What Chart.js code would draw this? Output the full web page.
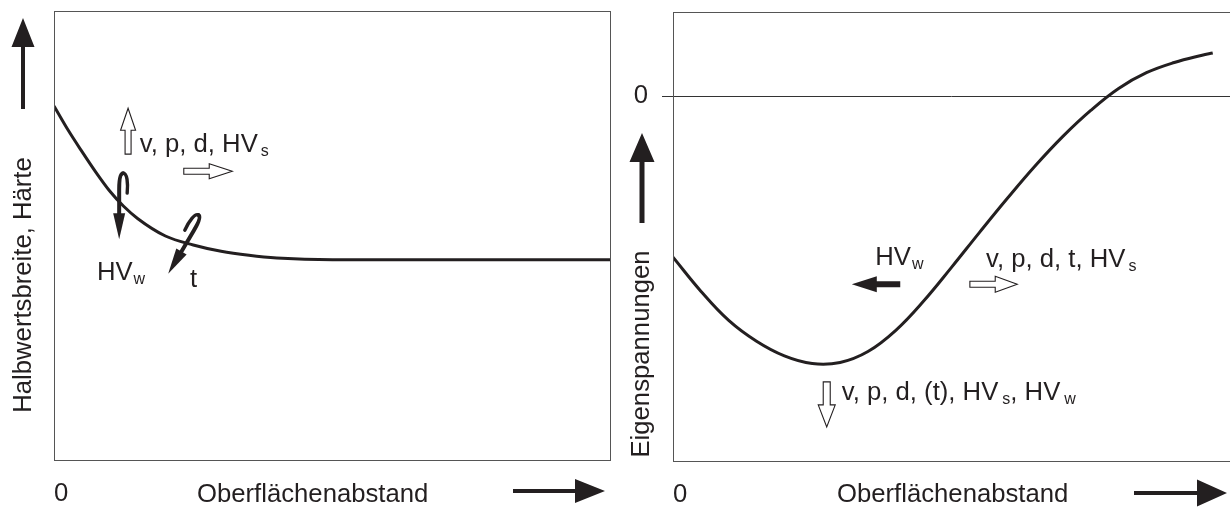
<!DOCTYPE html>
<html>
<head>
<meta charset="utf-8">
<script src="https://cdn.jsdelivr.net/npm/chart.js@4.4.1/dist/chart.umd.min.js"></script>
<style>
  html, body { margin: 0; padding: 0; background: #fff; overflow: hidden; }
  #wrap { position: relative; width: 1230px; height: 507px; }
  canvas { position: absolute; top: 0; }
  #fwhm { left: 0; }
  #stress { left: 615px; }
</style>
</head>
<body>
<div id="wrap">
  <canvas id="fwhm" width="615" height="507"></canvas>
  <canvas id="stress" width="615" height="507"></canvas>
</div>
<script>
// Half-width / hardness versus distance from the surface (relative units)
const distanceA = [0, 0.25, 0.5, 0.75, 1, 1.25, 1.5, 2, 2.5, 3, 3.5, 4, 5, 6, 8, 10];
const hardnessA = [7.89, 7.36, 6.88, 6.42, 6.00, 5.66, 5.39, 5.00, 4.80, 4.66, 4.57, 4.51, 4.47, 4.47, 4.47, 4.47];

// Residual stress versus distance from the surface (relative units)
const distanceB = [0, 0.5, 1, 1.5, 2, 2.5, 3, 3.5, 4, 4.5, 5, 5.5, 6, 6.5, 7, 7.5, 8, 8.5, 9, 9.5, 9.69];
const stressB = [-4.40, -5.33, -6.13, -6.70, -7.10, -7.31, -7.28, -6.98, -6.40, -5.60, -4.68, -3.73, -2.80, -1.91, -1.10, -0.39, 0.21, 0.64, 0.92, 1.12, 1.18];

// Tick values shown on the axes
const xTicks = [0];
const yTicksB = [0];

// Axis titles
const xTitle = 'Oberflächenabstand';
const yTitleA = 'Halbwertsbreite, Härte';
const yTitleB = 'Eigenspannungen';

const FONT = '"Liberation Sans", Arial, Helvetica, sans-serif';
const INK = '#231f20';
const MAIN = '25.7px ' + FONT;
const SUB = '16px ' + FONT;

// ---------- drawing helpers ----------
function arrowPath(ctx, x1, y1, x2, y2, sw, hl, hw) {
  const dx = x2 - x1, dy = y2 - y1, L = Math.hypot(dx, dy);
  const ux = dx / L, uy = dy / L, nx = -uy, ny = ux;
  const bx = x2 - ux * hl, by = y2 - uy * hl;
  ctx.beginPath();
  ctx.moveTo(x1 + nx * sw / 2, y1 + ny * sw / 2);
  ctx.lineTo(bx + nx * sw / 2, by + ny * sw / 2);
  ctx.lineTo(bx + nx * hw / 2, by + ny * hw / 2);
  ctx.lineTo(x2, y2);
  ctx.lineTo(bx - nx * hw / 2, by - ny * hw / 2);
  ctx.lineTo(bx - nx * sw / 2, by - ny * sw / 2);
  ctx.lineTo(x1 - nx * sw / 2, y1 - ny * sw / 2);
  ctx.closePath();
}
function solidArrow(ctx, x1, y1, x2, y2, sw, hl, hw) {
  arrowPath(ctx, x1, y1, x2, y2, sw, hl, hw);
  ctx.fillStyle = INK;
  ctx.fill();
}
function hollowArrow(ctx, x1, y1, x2, y2, sw, hl, hw) {
  arrowPath(ctx, x1, y1, x2, y2, sw, hl, hw);
  ctx.fillStyle = '#fff';
  ctx.fill();
  ctx.lineWidth = 1.1;
  ctx.strokeStyle = INK;
  ctx.stroke();
}
// Black arrow with a curled tail; drawn pointing down from its tail, tip at (tx, ty)
function curlArrow(ctx, tx, ty, angle, flip) {
  ctx.save();
  ctx.translate(tx, ty);
  ctx.rotate(angle);
  if (flip) ctx.scale(-1, 1);
  ctx.strokeStyle = INK;
  ctx.fillStyle = INK;
  ctx.lineCap = 'round';
  ctx.lineJoin = 'round';
  ctx.lineWidth = 4;
  ctx.beginPath();
  ctx.moveTo(0, -24);
  ctx.lineTo(0, -50);
  ctx.bezierCurveTo(0, -60, 1, -66, 4, -66);
  ctx.stroke();
  ctx.lineWidth = 3.4;
  ctx.beginPath();
  ctx.moveTo(4, -66);
  ctx.bezierCurveTo(8, -66, 9, -56, 8, -46);
  ctx.stroke();
  ctx.beginPath();
  ctx.moveTo(-6, -26);
  ctx.lineTo(6, -26);
  ctx.lineTo(0, 0);
  ctx.closePath();
  ctx.fill();
  ctx.restore();
}
// Text with subscripts: parts = [{t, sub, gap}]
function richText(ctx, x, y, parts) {
  ctx.save();
  ctx.fillStyle = INK;
  ctx.textAlign = 'left';
  ctx.textBaseline = 'alphabetic';
  let cx = x;
  for (const p of parts) {
    cx += p.gap || 0;
    ctx.font = p.sub ? SUB : MAIN;
    ctx.fillText(p.t, cx, p.sub ? y + 4 : y);
    cx += ctx.measureText(p.t).width;
  }
  ctx.restore();
}
function plainText(ctx, s, x, y) {
  ctx.save();
  ctx.font = MAIN;
  ctx.fillStyle = INK;
  ctx.textAlign = 'left';
  ctx.textBaseline = 'alphabetic';
  ctx.fillText(s, x, y);
  ctx.restore();
}
function verticalTitle(ctx, s, baseX, centerY) {
  ctx.save();
  ctx.translate(baseX, centerY);
  ctx.rotate(-Math.PI / 2);
  ctx.font = MAIN;
  ctx.fillStyle = INK;
  ctx.textAlign = 'center';
  ctx.textBaseline = 'alphabetic';
  ctx.fillText(s, 0, 0);
  ctx.restore();
}
function frame(ctx, a) {
  ctx.save();
  ctx.strokeStyle = '#555';
  ctx.lineWidth = 1;
  ctx.strokeRect(Math.round(a.left) + 0.5, Math.round(a.top) + 0.5,
                 Math.round(a.right - a.left) - 1, Math.round(a.bottom - a.top) - 1);
  ctx.restore();
}

// ---------- per-panel decorations ----------
const decorA = {
  id: 'decorA',
  afterDraw(chart) {
    const ctx = chart.ctx, X = chart.scales.x, Y = chart.scales.y;
    const px = v => X.getPixelForValue(v), py = v => Y.getPixelForValue(v);
    frame(ctx, chart.chartArea);

    // axis direction arrows and titles
    solidArrow(ctx, 23, 109, 23, 18, 4, 29, 23);
    verticalTitle(ctx, yTitleA, 31, 285);
    plainText(ctx, xTitle, 197, 502);
    solidArrow(ctx, 513, 491, 605, 491, 4, 30, 24);

    // influence annotations
    hollowArrow(ctx, px(1.33), py(6.82), px(1.33), py(7.84), 6, 22, 15);
    richText(ctx, px(1.54), py(6.87), [{ t: 'v, p, d, HV' }, { t: 's', sub: true, gap: 3 }]);
    hollowArrow(ctx, px(2.33), py(6.44), px(3.20), py(6.44), 6, 23, 15);
    curlArrow(ctx, px(1.17), py(4.93), 0, false);
    curlArrow(ctx, px(2.05), py(4.16), 0.536, true);
    richText(ctx, px(0.77), py(4.02), [{ t: 'HV' }, { t: 'w', sub: true, gap: 1 }]);
    richText(ctx, px(2.44), py(3.87), [{ t: 't' }]);
  }
};

const decorB = {
  id: 'decorB',
  afterDraw(chart) {
    const ctx = chart.ctx, X = chart.scales.x, Y = chart.scales.y;
    const px = v => X.getPixelForValue(v), py = v => Y.getPixelForValue(v);
    frame(ctx, { left: chart.chartArea.left, top: chart.chartArea.top,
                 right: chart.chartArea.right + 4, bottom: chart.chartArea.bottom });

    solidArrow(ctx, 27, 223, 27, 133, 5, 29, 25);
    verticalTitle(ctx, yTitleB, 34, 354);
    plainText(ctx, xTitle, 222, 502);
    solidArrow(ctx, 519, 493, 612, 493, 4, 30, 27);

    richText(ctx, px(3.63), py(-4.62), [{ t: 'HV' }, { t: 'w', sub: true, gap: 1 }]);
    solidArrow(ctx, px(4.08), py(-5.14), px(3.21), py(-5.14), 6, 25, 16);
    richText(ctx, px(5.62), py(-4.67), [{ t: 'v, p, d, t, HV' }, { t: 's', sub: true, gap: 3 }]);
    hollowArrow(ctx, px(5.33), py(-5.14), px(6.18), py(-5.14), 6, 22, 16);
    hollowArrow(ctx, px(2.76), py(-7.81), px(2.76), py(-9.04), 7, 22, 17);
    richText(ctx, px(3.03), py(-8.31), [
      { t: 'v, p, d, (t), HV' }, { t: 's', sub: true, gap: 4 },
      { t: ', HV' }, { t: 'w', sub: true, gap: 4 }
    ]);
  }
};

// ---------- shared axis pieces ----------
function bottomAxis(height) {
  return {
    type: 'linear', min: 0, max: 10,
    grid: { display: false, drawTicks: false },
    border: { display: false },
    afterBuildTicks: s => { s.ticks = xTicks.map(v => ({ value: v })); },
    afterFit: s => { s.height = height; s.paddingLeft = 0; s.paddingRight = 0; },
    ticks: { align: 'start', padding: 17, color: INK, font: { size: 25.7, family: FONT },
             maxRotation: 0, autoSkip: false }
  };
}
function lineDataset(xs, ys, mode) {
  return {
    data: xs.map((x, i) => ({ x, y: ys[i] })),
    borderColor: INK, borderWidth: 3, pointRadius: 0,
    cubicInterpolationMode: mode, tension: 0.4, fill: false
  };
}
const common = {
  responsive: false, animation: false, devicePixelRatio: 1,
  plugins: { legend: { display: false }, tooltip: { enabled: false } }
};

new Chart(document.getElementById('fwhm'), {
  type: 'line',
  data: { datasets: [lineDataset(distanceA, hardnessA, 'monotone')] },
  options: Object.assign({}, common, {
    layout: { padding: { left: 54, right: 4, top: 11, bottom: 0 } },
    scales: {
      x: bottomAxis(46),
      y: { type: 'linear', min: 0, max: 10, display: false }
    }
  }),
  plugins: [decorA]
});

new Chart(document.getElementById('stress'), {
  type: 'line',
  data: { datasets: [lineDataset(distanceB, stressB, 'default')] },
  options: Object.assign({}, common, {
    layout: { padding: { left: 0, right: 0, top: 12, bottom: 0 } },
    scales: {
      x: bottomAxis(45),
      y: {
        type: 'linear', min: -10, max: 2.3,
        border: { display: false },
        grid: { display: true, drawOnChartArea: true, drawTicks: true, tickLength: 11,
                color: '#333', lineWidth: 1 },
        afterBuildTicks: s => { s.ticks = yTicksB.map(v => ({ value: v })); },
        afterFit: s => { s.width = 58; s.paddingTop = 0; s.paddingBottom = 0; },
        ticks: { padding: 14, color: INK, font: { size: 25.7, family: FONT } }
      }
    }
  }),
  plugins: [decorB]
});
</script>
</body>
</html>
